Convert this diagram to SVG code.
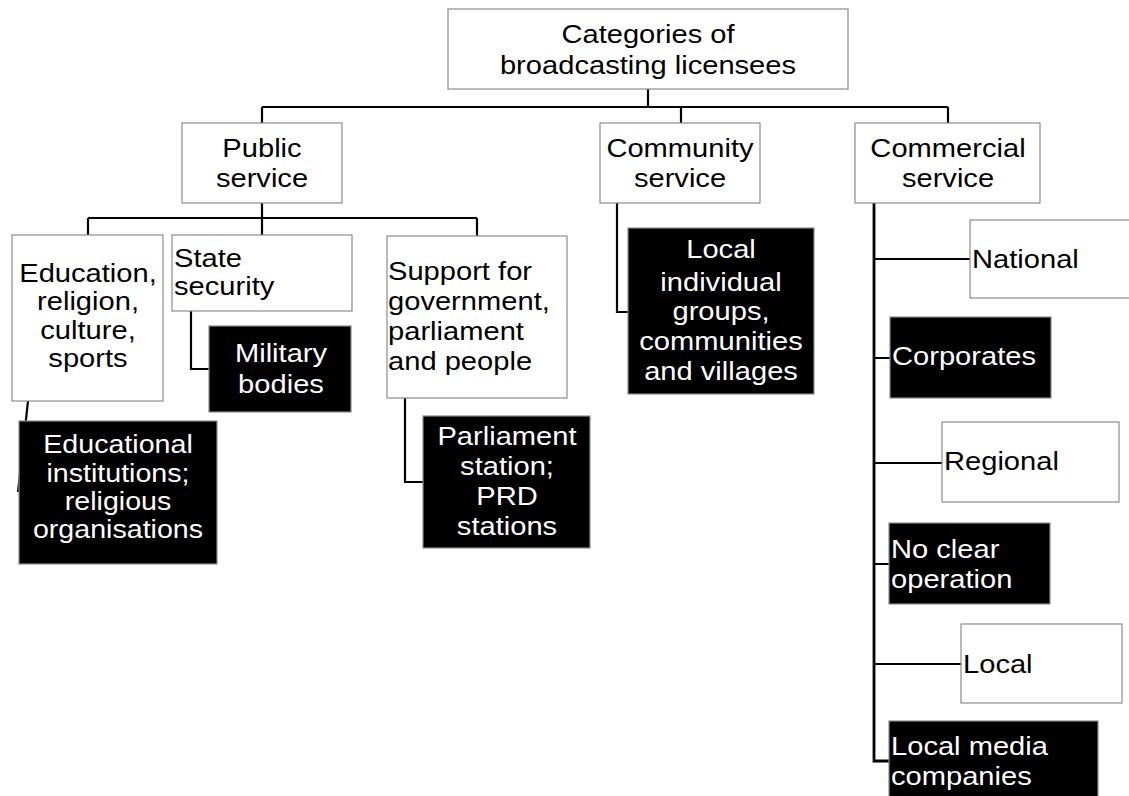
<svg xmlns="http://www.w3.org/2000/svg" width="1129" height="796" viewBox="0 0 1129 796">
  <style>
    .box { fill: #ffffff; stroke: #8c8c8c; stroke-width: 1.2; }
    .dark { fill: #000000; stroke: #8c8c8c; stroke-width: 1.2; }
    .lbl { font-family: "Liberation Sans", Arial, sans-serif; font-size: 26px; fill: #000000; }
    .inv { fill: #ffffff; }
    .mid { text-anchor: middle; }
    .conn { fill: none; stroke: #000000; stroke-width: 2.2; stroke-linejoin: miter; }
    .trunk { stroke-width: 2.8; }
  </style>
  <rect width="1129" height="796" fill="#ffffff"/>

  <!-- connectors -->
  <g id="connectors">
    <path class="conn" d="M648 89 V107 M262 107 H948 M262 107 V123 M681 107 V123 M948 107 V123"/>
    <path class="conn" d="M262 203 V218 M88 218 H477 M88 218 V235 M262 218 V235 M477 218 V236"/>
    <path class="conn" d="M191 311 V369 H209"/>
    <path class="conn" d="M28 401 L18 492"/>
    <path class="conn" d="M405 398 V482 H423"/>
    <path class="conn" d="M617 203 V312 H628"/>
    <path class="conn trunk" d="M874 203 V761 H889"/>
    <path class="conn" d="M874 259 H970 M874 358 H890 M874 463 H942 M874 564 H889 M874 664 H961"/>
  </g>

  <g id="root">
    <rect class="box" x="448" y="9" width="400" height="80"/>
    <text class="lbl mid" transform="translate(648 0) scale(1.12 1)"><tspan x="0" y="43">Categories of</tspan><tspan x="0" y="74">broadcasting licensees</tspan></text>
  </g>

  <g id="public-service">
    <rect class="box" x="182" y="123" width="160" height="80"/>
    <text class="lbl mid" transform="translate(262 0) scale(1.12 1)"><tspan x="0" y="157">Public</tspan><tspan x="0" y="187">service</tspan></text>
  </g>

  <g id="community-service">
    <rect class="box" x="600" y="123" width="160" height="80"/>
    <text class="lbl mid" transform="translate(680 0) scale(1.12 1)"><tspan x="0" y="157">Community</tspan><tspan x="0" y="187">service</tspan></text>
  </g>

  <g id="commercial-service">
    <rect class="box" x="855" y="123" width="185" height="80"/>
    <text class="lbl mid" transform="translate(948 0) scale(1.12 1)"><tspan x="0" y="157">Commercial</tspan><tspan x="0" y="187">service</tspan></text>
  </g>

  <g id="education">
    <rect class="box" x="12" y="235" width="151" height="166"/>
    <text class="lbl mid" transform="translate(88 0) scale(1.12 1)"><tspan x="0" y="282">Education,</tspan><tspan x="0" y="310">religion,</tspan><tspan x="0" y="339">culture,</tspan><tspan x="0" y="367">sports</tspan></text>
  </g>

  <g id="state-security">
    <rect class="box" x="172" y="235" width="180" height="76"/>
    <text class="lbl" transform="translate(174 0) scale(1.12 1)"><tspan x="0" y="267">State</tspan><tspan x="0" y="295">security</tspan></text>
  </g>

  <g id="support">
    <rect class="box" x="387" y="236" width="180" height="162"/>
    <text class="lbl" transform="translate(388 0) scale(1.12 1)"><tspan x="0" y="280">Support for</tspan><tspan x="0" y="310">government,</tspan><tspan x="0" y="340">parliament</tspan><tspan x="0" y="370">and people</tspan></text>
  </g>

  <g id="military-bodies">
    <rect class="dark" x="209" y="326" width="142" height="86"/>
    <text class="lbl inv mid" transform="translate(281 0) scale(1.12 1)"><tspan x="0" y="362">Military</tspan><tspan x="0" y="393">bodies</tspan></text>
  </g>

  <g id="educational-institutions">
    <rect class="dark" x="19" y="421" width="198" height="143"/>
    <text class="lbl inv mid" transform="translate(118 0) scale(1.1 1)"><tspan x="0" y="453">Educational</tspan><tspan x="0" y="482">institutions;</tspan><tspan x="0" y="510">religious</tspan><tspan x="0" y="538">organisations</tspan></text>
  </g>

  <g id="parliament-station">
    <rect class="dark" x="423" y="416" width="167" height="132"/>
    <text class="lbl inv mid" transform="translate(507 0) scale(1.12 1)"><tspan x="0" y="445">Parliament</tspan><tspan x="0" y="475">station;</tspan><tspan x="0" y="505">PRD</tspan><tspan x="0" y="535">stations</tspan></text>
  </g>

  <g id="local-groups">
    <rect class="dark" x="628" y="228" width="186" height="166"/>
    <text class="lbl inv mid" transform="translate(721 0) scale(1.12 1)"><tspan x="0" y="258">Local</tspan><tspan x="0" y="291">individual</tspan><tspan x="0" y="320">groups,</tspan><tspan x="0" y="350">communities</tspan><tspan x="0" y="380">and villages</tspan></text>
  </g>

  <g id="national">
    <rect class="box" x="970" y="220" width="180" height="78"/>
    <text class="lbl" transform="translate(972 0) scale(1.12 1)"><tspan x="0" y="268">National</tspan></text>
  </g>

  <g id="corporates">
    <rect class="dark" x="890" y="317" width="161" height="81"/>
    <text class="lbl inv" transform="translate(892 0) scale(1.12 1)"><tspan x="0" y="365">Corporates</tspan></text>
  </g>

  <g id="regional">
    <rect class="box" x="942" y="422" width="177" height="80"/>
    <text class="lbl" transform="translate(944 0) scale(1.12 1)"><tspan x="0" y="470">Regional</tspan></text>
  </g>

  <g id="no-clear-operation">
    <rect class="dark" x="889" y="523" width="161" height="81"/>
    <text class="lbl inv" transform="translate(891 0) scale(1.12 1)"><tspan x="0" y="558">No clear</tspan><tspan x="0" y="588">operation</tspan></text>
  </g>

  <g id="local">
    <rect class="box" x="961" y="624" width="161" height="79"/>
    <text class="lbl" transform="translate(963 0) scale(1.12 1)"><tspan x="0" y="673">Local</tspan></text>
  </g>

  <g id="local-media-companies">
    <rect class="dark" x="889" y="721" width="209" height="90"/>
    <text class="lbl inv" transform="translate(891 0) scale(1.12 1)"><tspan x="0" y="755">Local media</tspan><tspan x="0" y="785">companies</tspan></text>
  </g>
</svg>
